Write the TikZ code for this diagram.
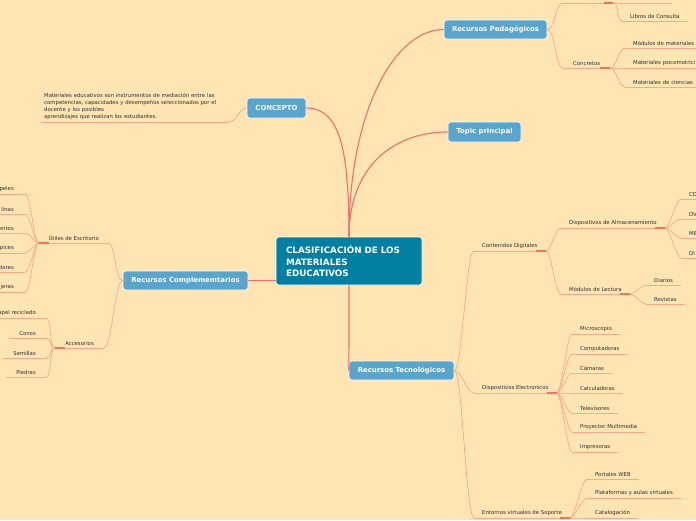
\documentclass[tikz,border=0pt]{standalone}
\usepackage{fontspec}
\setmainfont{DejaVu Sans}
\definecolor{bg}{HTML}{FFE4B4}
\definecolor{nodeblue}{HTML}{5BA4CB}
\definecolor{centralc}{HTML}{037FA1}
\definecolor{mainc}{HTML}{EF6F6A}
\definecolor{thinc}{HTML}{F7A88E}
\definecolor{hubc}{HTML}{F0706A}
\definecolor{txt}{HTML}{2E2E2E}
\begin{document}
\begin{tikzpicture}[x=1pt,y=-1pt,
  uline/.style={draw=thinc, line width=0.7pt},
  conn/.style={draw=thinc, line width=0.7pt},
  mainline/.style={draw=mainc, line width=1.1pt},
  hubmark/.style={draw=hubc, line width=1.5pt},
  leaf/.style={font=\fontsize{5.35}{6}\selectfont, text=txt, inner xsep=8pt, inner ysep=2.2pt, anchor=south west,
    append after command={(\tikzlastnode.south west) edge[uline] (\tikzlastnode.south east)}},
  topicbox/.style={fill=nodeblue, draw=white, line width=0.6pt, rounded corners=3pt, text=white,
    font=\bfseries\fontsize{6.9}{8}\selectfont, inner sep=0pt},
]
\useasboundingbox[fill=bg] (0,0) rectangle (696,520);

% main topic nodes
\node[fill=centralc, draw=white, line width=0.6pt, rounded corners=3pt, text=white, inner sep=0pt,
  minimum width=146pt, minimum height=48pt, text width=126pt, align=left,
  font=\bfseries\fontsize{8.8}{11.5}\selectfont] (central) at (349,261)
  {CLASIFICACIÓN DE LOS\\MATERIALES\\EDUCATIVOS};
\node[topicbox, minimum width=59pt, minimum height=20pt] (concepto) at (276.5,108) {CONCEPTO};
\node[topicbox, minimum width=103pt, minimum height=19pt] (ped) at (495.5,29.5) {Recursos Pedagógicos};
\node[topicbox, minimum width=73pt, minimum height=20pt] (topic) at (484.5,132) {Topic principal};
\node[topicbox, minimum width=125pt, minimum height=19pt] (compl) at (185.5,280.5) {Recursos Complememtarios};
\node[topicbox, minimum width=105pt, minimum height=19pt] (tec) at (401.5,370.5) {Recursos Tecnológicos};

% main connectors
\draw[mainline] (central.north) .. controls (349,150) and (340,108) .. (concepto.east);
\draw[mainline] (central.north) .. controls (349,110) and (395,29.5) .. (ped.west);
\draw[mainline] (central.north) .. controls (349,165) and (395,132) .. (topic.west);
\draw[mainline] (compl.east) -- (central.west |- compl.east);
\draw[mainline] (central.south) .. controls (349,330) and (349,365) .. (tec.west);

% CONCEPTO text
\node[leaf, text width=182pt, align=left, inner xsep=3pt, font=\fontsize{5.35}{7}\selectfont] (ctext) at (41,122)
  {Materiales educativos son instrumentos de mediación entre las\\
   competencias, capacidades y desempeños seleccionados por el\\
   docente y los posibles\\
   aprendizajes que realizan los estudiantes.};
\draw[conn] (concepto.west) .. controls +(-8,0) and +(8,0) .. (ctext.south east);

% Recursos Pedagogicos
\node[leaf, minimum width=50pt] (ped1) at (563,3) {};
\node[leaf, minimum width=52pt] (ped1a) at (620,3) {};
\node[leaf] (libros) at (622,21) {Libros de Consulta};
\node[leaf, inner xsep=10pt] (concretos) at (563,68) {Concretos};
\node[leaf, text width=70pt] (modmat) at (625,48) {Módulos de materiales};
\node[leaf, text width=70pt] (psico) at (625,68) {Materiales psicomotrici};
\node[leaf, text width=70pt] (ciencias) at (625,87) {Materiales de ciencias};
\foreach \c in {ped1,concretos}
  \draw[conn] (ped.east) .. controls +(8,0) and +(-8,0) .. (\c.south west);
\foreach \c in {ped1a,libros}
  \draw[conn] (ped1.south east) .. controls +(6,0) and +(-6,0) .. (\c.south west);
\foreach \c in {modmat,psico,ciencias}
  \draw[conn] (concretos.south east) .. controls +(6,0) and +(-6,0) .. (\c.south west);
\draw[hubmark] ([xshift=-9pt]ped1.south east) -- (ped1.south east);
\draw[hubmark] ([xshift=-10pt]concretos.south east) -- (concretos.south east);

% Recursos Complementarios
\node[leaf, anchor=south east, inner xsep=9pt] (utiles) at (108,243) {Útiles de Escritorio};
\node[leaf, anchor=south east, inner xsep=10pt] (acc) at (104,348) {Accesorios};
\foreach \c/\y/\t in {u1/194/peles,u2/214/linas,u3/233/entos,u4/253/pices,u5/272/dores,u6/292/jeras}
  \node[leaf, anchor=south east, inner xsep=11pt] (\c) at (25,\y) {\t};
\foreach \c/\y/\t in {a1/318/apel reciclado,a2/338/Conos,a3/358/Semillas,a4/377/Piedras}
  \node[leaf, anchor=south east, inner xsep=10pt] (\c) at (46,\y) {\t};
\foreach \c in {utiles,acc}
  \draw[conn] (compl.west) .. controls +(-8,0) and +(8,0) .. (\c.south east);
\foreach \c in {u1,u2,u3,u4,u5,u6}
  \draw[conn] (utiles.south west) .. controls +(-6,0) and +(6,0) .. (\c.south east);
\foreach \c in {a1,a2,a3,a4}
  \draw[conn] (acc.south west) .. controls +(-6,0) and +(6,0) .. (\c.south east);
\draw[hubmark] (utiles.south west) -- ([xshift=10pt]utiles.south west);
\draw[hubmark] (acc.south west) -- ([xshift=10pt]acc.south west);

% Recursos Tecnologicos
\node[leaf] (cont) at (474,251) {Contenidos Digitales};
\node[leaf] (elec) at (474,393) {Dispositivos Electronicos};
\node[leaf] (ent) at (474,518) {Entornos virtuales de Soporte};
\foreach \c in {cont,elec,ent}
  \draw[conn] (tec.east) .. controls +(8,0) and +(-8,0) .. (\c.south west);

\node[leaf] (alm) at (561,228) {Dispositivos de Almacenamiento};
\node[leaf] (lect) at (561,294) {Módulos de Lectura};
\foreach \c in {alm,lect}
  \draw[conn] (cont.south east) .. controls +(6,0) and +(-6,0) .. (\c.south west);

\foreach \c/\y/\t in {cd/199/CD,dv/219/DV,me/238/ME,di/258/DI}
  \node[leaf, text width=20pt] (\c) at (681,\y) {\t};
\foreach \c in {cd,dv,me,di}
  \draw[conn] (alm.south east) .. controls +(5,0) and +(-5,0) .. (\c.south west);

\node[leaf] (diarios) at (646,285) {Diarios};
\node[leaf] (revistas) at (646,304) {Revistas};
\foreach \c in {diarios,revistas}
  \draw[conn] (lect.south east) .. controls +(6,0) and +(-6,0) .. (\c.south west);

\foreach \c/\y/\t in {e1/334/Microscopio,e2/354/Computadoras,e3/373/Cámaras,e4/393/Calculadoras,e5/413/Televisores,e6/432/Proyector Multimedia,e7/452/Impresoras}
  \node[leaf] (\c) at (572,\y) {\t};
\foreach \c in {e1,e2,e3,e4,e5,e6,e7}
  \draw[conn] (elec.south east) .. controls +(5,0) and +(-5,0) .. (\c.south west);

\foreach \c/\y/\t in {w1/479/Portales WEB,w2/498/Plataformas y aulas virtuales,w3/518/Catalogación}
  \node[leaf] (\c) at (587,\y) {\t};
\foreach \c in {w1,w2,w3}
  \draw[conn] (ent.south east) .. controls +(5,0) and +(-5,0) .. (\c.south west);

\foreach \c in {cont,alm,lect,elec,ent}
  \draw[hubmark] ([xshift=-10pt]\c.south east) -- (\c.south east);
\end{tikzpicture}
\end{document}
